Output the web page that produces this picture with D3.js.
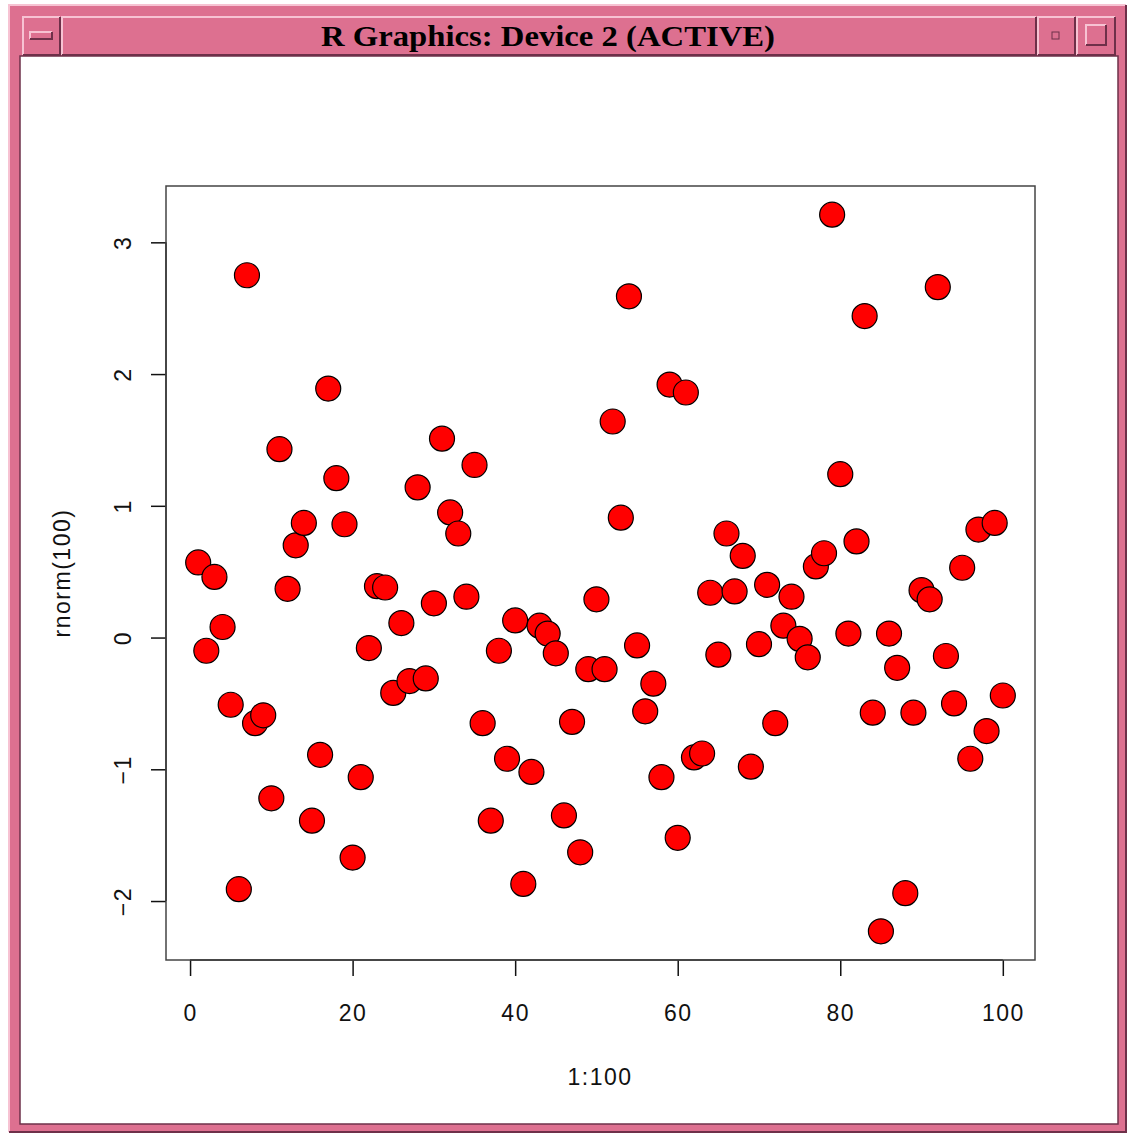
<!DOCTYPE html>
<html>
<head>
<meta charset="utf-8">
<script src="https://cdn.jsdelivr.net/npm/d3@7"></script>
<style>
  body { margin: 0; background: #fff; }
  svg text { font-family: "Liberation Sans", Arial, sans-serif; }
</style>
</head>
<body>
<div class="plot"></div>
<script>
// rnorm(100) values
const idx = d3.range(1, 101);
const yvals = [
   0.57, -0.10,  0.46,  0.08, -0.51, -1.91,  2.75, -0.65, -0.59, -1.22,
   1.43,  0.37,  0.70,  0.87, -1.39, -0.89,  1.89,  1.21,  0.86, -1.67,
  -1.06, -0.08,  0.39,  0.38, -0.42,  0.11, -0.33,  1.14, -0.31,  0.26,
   1.51,  0.95,  0.79,  0.31,  1.31, -0.65, -1.39, -0.10, -0.92,  0.13,
  -1.87, -1.02,  0.09,  0.03, -0.12, -1.35, -0.64, -1.63, -0.24,  0.29,
  -0.24,  1.64,  0.91,  2.59, -0.06, -0.56, -0.35, -1.06,  1.92, -1.52,
   1.86, -0.91, -0.88,  0.34, -0.13,  0.79,  0.35,  0.62, -0.98, -0.05,
   0.40, -0.65,  0.09,  0.31, -0.01, -0.15,  0.54,  0.64,  3.21,  1.24,
   0.03,  0.73,  2.44, -0.57, -2.23,  0.03, -0.23, -1.94, -0.57,  0.36,
   0.29,  2.66, -0.14, -0.50,  0.53, -0.92,  0.82, -0.71,  0.87, -0.44
];
const xTicks = [0, 20, 40, 60, 80, 100];
const yTicks = [-2, -1, 0, 1, 2, 3];
const title = 'R Graphics: Device 2 (ACTIVE)';

const W = 1128, H = 1134;
const svg = d3.select('.plot')
    .append('svg')
    .attr('width', W)
    .attr('height', H);

// ---- window frame ----
const pink = '#dd7090', light = '#f7c3d3', dark = '#6e3049';
function bevel(bx, by, w, h, fill) {
    svg.append('rect').attr('x', bx).attr('y', by).attr('width', w).attr('height', h).attr('fill', fill);
    svg.append('path').attr('d', `M${bx},${by + h}V${by}H${bx + w}`).attr('fill', 'none')
        .attr('stroke', light).attr('stroke-width', 2);
    svg.append('path').attr('d', `M${bx},${by + h}H${bx + w}V${by}`).attr('fill', 'none')
        .attr('stroke', dark).attr('stroke-width', 2);
}
bevel(9, 5, 1117, 1127, pink);
svg.append('rect').attr('x', 20).attr('y', 56).attr('width', 1098).attr('height', 1068)
    .attr('fill', '#fff').attr('stroke', dark).attr('stroke-width', 1.5);
bevel(23, 17, 37, 38, pink);
bevel(62, 17, 974, 38, pink);
bevel(1038, 17, 37, 38, pink);
bevel(1077, 17, 38, 38, pink);
bevel(30, 32, 22, 7, pink);
svg.append('rect').attr('x', 1052).attr('y', 32).attr('width', 7).attr('height', 7)
    .attr('fill', 'none').attr('stroke', dark).attr('stroke-width', 1);
bevel(1086, 25, 20, 20, pink);
svg.append('text')
    .attr('x', 548).attr('y', 46)
    .attr('text-anchor', 'middle')
    .style('font-family', '"Liberation Serif", "Times New Roman", serif')
    .style('font-weight', 'bold')
    .style('font-size', '30px')
    .attr('textLength', 454)
    .attr('lengthAdjust', 'spacingAndGlyphs')
    .text(title);

// ---- plot ----
const pLeft = 166, pRight = 1035, pTop = 186, pBottom = 960;
const xr = d3.extent(idx), yr = d3.extent(yvals);
const xpad = (xr[1] - xr[0]) * 0.04, ypad = (yr[1] - yr[0]) * 0.04;
const x = d3.scaleLinear().domain([xr[0] - xpad, xr[1] + xpad]).range([pLeft, pRight]);
const y = d3.scaleLinear().domain([yr[0] - ypad, yr[1] + ypad]).range([pBottom, pTop]);

const xAxis = svg.append('g')
    .attr('transform', `translate(0,${pBottom})`)
    .call(d3.axisBottom(x).tickValues(xTicks).tickFormat(d3.format('d')).tickSize(16));
const yAxis = svg.append('g')
    .attr('transform', `translate(${pLeft},0)`)
    .call(d3.axisLeft(y).tickValues(yTicks).tickFormat(d3.format('d')).tickSize(15));
[xAxis, yAxis].forEach(g => {
    g.select('.domain').remove();
    g.selectAll('line').attr('stroke', '#111').attr('stroke-width', 1.5);
    g.selectAll('text')
        .attr('fill', '#111')
        .style('font-size', '23px')
        .style('letter-spacing', '1.5px')
        .style('font-family', '"Liberation Sans", Arial, sans-serif');
});
xAxis.selectAll('.tick text').attr('y', 53).attr('dy', '0.35em');
yAxis.selectAll('.tick text')
    .attr('text-anchor', 'middle')
    .attr('x', 0).attr('y', 0)
    .attr('dy', '0.35em')
    .attr('transform', 'translate(-43,0) rotate(-90)');

// axis lines spanning first..last tick
svg.append('line')
    .attr('x1', x(xTicks[0])).attr('x2', x(xTicks[xTicks.length - 1]))
    .attr('y1', pBottom).attr('y2', pBottom)
    .attr('stroke', '#111').attr('stroke-width', 1.5);
svg.append('line')
    .attr('x1', pLeft).attr('x2', pLeft)
    .attr('y1', y(yTicks[0])).attr('y2', y(yTicks[yTicks.length - 1]))
    .attr('stroke', '#111').attr('stroke-width', 1.5);

svg.append('rect')
    .attr('x', pLeft).attr('y', pTop)
    .attr('width', pRight - pLeft).attr('height', pBottom - pTop)
    .attr('fill', 'none').attr('stroke', '#444').attr('stroke-width', 1.5);

svg.append('g').selectAll('circle')
    .data(yvals)
    .join('circle')
    .attr('cx', (d, i) => x(idx[i]))
    .attr('cy', d => y(d))
    .attr('r', 12.5)
    .attr('fill', '#ff0000')
    .attr('stroke', '#000')
    .attr('stroke-width', 1.2);

// axis titles
svg.append('text')
    .attr('x', 600).attr('y', 1077)
    .attr('dy', '0.35em')
    .attr('text-anchor', 'middle')
    .attr('fill', '#111')
    .style('font-size', '23px')
    .style('letter-spacing', '1.5px')
    .text('1:100');
svg.append('text')
    .attr('transform', 'translate(62,573) rotate(-90)')
    .attr('dy', '0.35em')
    .attr('text-anchor', 'middle')
    .attr('fill', '#111')
    .style('font-size', '23px')
    .style('letter-spacing', '1.5px')
    .text('rnorm(100)');
</script>
</body>
</html>
